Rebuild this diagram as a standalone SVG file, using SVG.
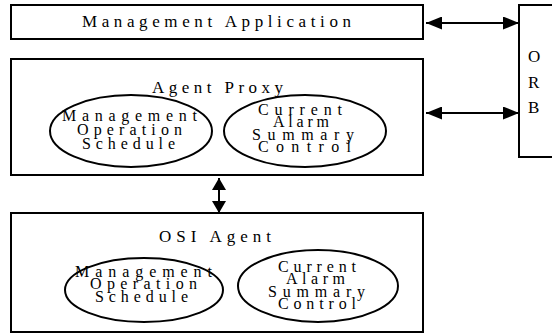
<svg xmlns="http://www.w3.org/2000/svg" width="552" height="333" viewBox="0 0 552 333" font-family="'Liberation Serif', 'Times New Roman', serif">
<defs>
<style>
.box{fill:#fff;stroke:#000;stroke-width:2}
.ell{fill:none;stroke:#000;stroke-width:2}
text{font-family:'Liberation Serif','Times New Roman',serif;fill:#000}
.lbl{font-size:17px}
.et{font-size:16px}
.ln{stroke:#000;stroke-width:2;fill:none}
</style>
<marker id="ah" markerUnits="userSpaceOnUse" markerWidth="16" markerHeight="13" refX="16" refY="6.5" orient="auto-start-reverse">
<path d="M0,0 L16,6.5 L0,13 Z" fill="#000"/>
</marker>
<marker id="av" markerUnits="userSpaceOnUse" markerWidth="12" markerHeight="14" refX="12" refY="7" orient="auto-start-reverse">
<path d="M0,0 L12,7 L0,14 Z" fill="#000"/>
</marker>
</defs>
<rect width="552" height="333" fill="#fff"/>
<g id="mgmt-app">
<rect class="box" x="11" y="5" width="412" height="34"/>
<text class="lbl" x="82" y="27" textLength="269" lengthAdjust="spacing">Management Application</text>
</g>
<g id="orb">
<rect class="box" x="519" y="5" width="45" height="152"/>
<text class="lbl" x="528" y="62">O</text>
<text class="lbl" x="528" y="88">R</text>
<text class="lbl" x="528" y="113">B</text>
</g>
<g id="agent-proxy">
<rect class="box" x="11" y="59" width="412" height="116"/>
<text class="lbl" x="152" y="93" textLength="131" lengthAdjust="spacing">Agent Proxy</text>
</g>
<g id="proxy-mos">
<ellipse class="ell" cx="131" cy="131" rx="81" ry="36"/>
<text class="et" x="62" y="121" textLength="135" lengthAdjust="spacing">Management</text>
<text class="et" x="77" y="135" textLength="105" lengthAdjust="spacing">Operation</text>
<text class="et" x="82" y="149" textLength="93" lengthAdjust="spacing">Schedule</text>
</g>
<g id="proxy-cas">
<ellipse class="ell" cx="305" cy="131" rx="81" ry="36"/>
<text class="et" x="258" y="115" textLength="84" lengthAdjust="spacing">Current</text>
<text class="et" x="273" y="127" textLength="56" lengthAdjust="spacing">Alarm</text>
<text class="et" x="252" y="140" textLength="102" lengthAdjust="spacing">Summary</text>
<text class="et" x="258" y="152" textLength="93" lengthAdjust="spacing">Control</text>
</g>
<g id="osi-agent">
<rect class="box" x="11" y="213" width="412" height="119"/>
<text class="lbl" x="159" y="242" textLength="112" lengthAdjust="spacing">OSI Agent</text>
</g>
<g id="osi-mos">
<ellipse class="ell" cx="144" cy="290" rx="79" ry="32"/>
<text class="et" x="75" y="277" textLength="137" lengthAdjust="spacing">Management</text>
<text class="et" x="90" y="289" textLength="107" lengthAdjust="spacing">Operation</text>
<text class="et" x="95" y="302" textLength="93" lengthAdjust="spacing">Schedule</text>
</g>
<g id="osi-cas">
<ellipse class="ell" cx="318" cy="286" rx="80" ry="36"/>
<text class="et" x="278" y="272" textLength="78" lengthAdjust="spacing">Current</text>
<text class="et" x="286" y="284" textLength="59" lengthAdjust="spacing">Alarm</text>
<text class="et" x="268" y="297" textLength="97" lengthAdjust="spacing">Summary</text>
<text class="et" x="278" y="309" textLength="78" lengthAdjust="spacing">Control</text>
</g>
<g id="connectors">
<line class="ln" x1="426" y1="23" x2="519" y2="23" marker-start="url(#ah)" marker-end="url(#ah)"/>
<line class="ln" x1="426" y1="113" x2="519" y2="113" marker-start="url(#ah)" marker-end="url(#ah)"/>
<line class="ln" x1="219" y1="178" x2="219" y2="213" marker-start="url(#av)" marker-end="url(#av)"/>
</g>
</svg>
